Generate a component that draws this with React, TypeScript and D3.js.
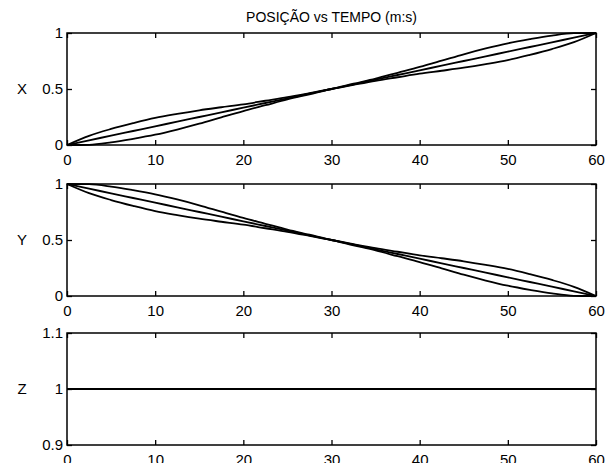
import React, { useEffect, useRef } from "react";
import * as d3 from "d3";

// tempo (s)
const time = [
  0, 2.5, 5, 7.5, 10, 12.5, 15, 17.5, 20, 22.5, 25, 27.5, 30, 32.5, 35, 37.5,
  40, 42.5, 45, 47.5, 50, 52.5, 55, 57.5, 60
];

// posição X - três trajectórias
const xUpper = [
  0, 0.082, 0.143, 0.195, 0.242, 0.278, 0.31, 0.337, 0.363, 0.395, 0.427,
  0.463, 0.5, 0.547, 0.593, 0.645, 0.697, 0.753, 0.81, 0.862, 0.908, 0.945,
  0.977, 0.998, 1
];
const xMiddle = [
  0, 0.042, 0.083, 0.125, 0.167, 0.208, 0.25, 0.292, 0.333, 0.375, 0.417,
  0.458, 0.5, 0.542, 0.583, 0.625, 0.667, 0.708, 0.75, 0.792, 0.833, 0.875,
  0.917, 0.958, 1
];
const xLower = [
  0, 0.002, 0.023, 0.055, 0.092, 0.138, 0.19, 0.247, 0.303, 0.355, 0.407,
  0.453, 0.5, 0.537, 0.573, 0.605, 0.637, 0.663, 0.69, 0.722, 0.758, 0.805,
  0.857, 0.918, 1
];

// posição Y
const yUpper = [
  1, 0.998, 0.977, 0.945, 0.908, 0.862, 0.81, 0.753, 0.697, 0.645, 0.593,
  0.547, 0.5, 0.463, 0.427, 0.395, 0.363, 0.337, 0.31, 0.278, 0.242, 0.195,
  0.143, 0.082, 0
];
const yMiddle = [
  1, 0.958, 0.917, 0.875, 0.833, 0.792, 0.75, 0.708, 0.667, 0.625, 0.583,
  0.542, 0.5, 0.458, 0.417, 0.375, 0.333, 0.292, 0.25, 0.208, 0.167, 0.125,
  0.083, 0.042, 0
];
const yLower = [
  1, 0.918, 0.857, 0.805, 0.758, 0.722, 0.69, 0.663, 0.637, 0.605, 0.573,
  0.537, 0.5, 0.453, 0.407, 0.355, 0.303, 0.247, 0.19, 0.138, 0.092, 0.055,
  0.023, 0.002, 0
];

// posição Z
const zTime = [0, 60];
const zValue = [1, 1];

const timeTicks = [0, 10, 20, 30, 40, 50, 60];
const unitTicks = [0, 0.5, 1];
const zTicks = [0.9, 1, 1.1];

const FONT = "'Liberation Sans', Arial, sans-serif";

export default function App() {
  const ref = useRef<SVGSVGElement>(null);

  useEffect(() => {
    const width = 612;
    const left = 67;
    const right = 596;
    const panelH = 112;

    const svg = d3.select(ref.current);
    svg.selectAll("*").remove();

    // the scan cuts off the bottom row of labels
    svg
      .append("defs")
      .append("clipPath")
      .attr("id", "scan")
      .append("rect")
      .attr("width", width)
      .attr("height", 463);

    const root = svg.append("g").attr("clip-path", "url(#scan)");

    root
      .append("text")
      .attr("x", (left + right) / 2)
      .attr("y", 22)
      .attr("text-anchor", "middle")
      .attr("font-family", FONT)
      .attr("font-size", 14)
      .text("POSIÇÃO vs TEMPO (m:s)");

    const panels = [
      {
        name: "X",
        top: 33,
        domain: [0, 1],
        ticks: unitTicks,
        mid: 0.5,
        series: [
          { t: time, v: xUpper },
          { t: time, v: xMiddle },
          { t: time, v: xLower }
        ]
      },
      {
        name: "Y",
        top: 184,
        domain: [0, 1],
        ticks: unitTicks,
        mid: 0.5,
        series: [
          { t: time, v: yUpper },
          { t: time, v: yMiddle },
          { t: time, v: yLower }
        ]
      },
      {
        name: "Z",
        top: 333,
        domain: [0.9, 1.1],
        ticks: zTicks,
        mid: 1,
        series: [{ t: zTime, v: zValue }]
      }
    ];

    const x = d3.scaleLinear().domain([0, 60]).range([left, right]);

    panels.forEach(p => {
      const y = d3
        .scaleLinear()
        .domain(p.domain)
        .range([p.top + panelH, p.top]);
      const g = root.append("g");

      p.series.forEach(s => {
        const line = d3
          .line<number>()
          .x(d => x(d))
          .y((d, i) => y(s.v[i]))
          .curve(d3.curveMonotoneX);
        g.append("path")
          .attr("fill", "none")
          .attr("stroke", "#000")
          .attr("stroke-width", 1.8)
          .attr("stroke-linejoin", "round")
          .attr("d", line(s.t));
      });

      const styleAxis = sel => {
        sel.select(".domain").remove();
        sel.selectAll("line").attr("stroke", "#000").attr("stroke-width", 1.3);
        sel
          .selectAll("text")
          .attr("font-family", FONT)
          .attr("font-size", 15)
          .attr("fill", "#000");
      };

      g.append("g")
        .attr("transform", `translate(0,${p.top + panelH})`)
        .call(
          d3.axisBottom(x).tickValues(timeTicks).tickSize(-5).tickPadding(9)
        )
        .call(styleAxis);
      g.append("g")
        .attr("transform", `translate(0,${p.top})`)
        .call(
          d3.axisTop(x).tickValues(timeTicks).tickSize(-5).tickFormat(() => "")
        )
        .call(styleAxis);
      g.append("g")
        .attr("transform", `translate(${left},0)`)
        .call(
          d3
            .axisLeft(y)
            .tickValues(p.ticks)
            .tickSize(-5)
            .tickPadding(4)
            .tickFormat(d => String(d))
        )
        .call(styleAxis);
      g.append("g")
        .attr("transform", `translate(${right},0)`)
        .call(
          d3.axisRight(y).tickValues(p.ticks).tickSize(-5).tickFormat(() => "")
        )
        .call(styleAxis);

      g.append("rect")
        .attr("x", left)
        .attr("y", p.top)
        .attr("width", right - left)
        .attr("height", panelH)
        .attr("fill", "none")
        .attr("stroke", "#000")
        .attr("stroke-width", 1.5);

      g.append("text")
        .attr("x", 22)
        .attr("y", y(p.mid))
        .attr("dy", "0.35em")
        .attr("text-anchor", "middle")
        .attr("font-family", FONT)
        .attr("font-size", 15)
        .text(p.name);
    });
  }, []);

  return (
    <svg
      ref={ref}
      width={612}
      height={470}
      style={{ position: "absolute", left: 0, top: 0, background: "#fff" }}
    />
  );
}
